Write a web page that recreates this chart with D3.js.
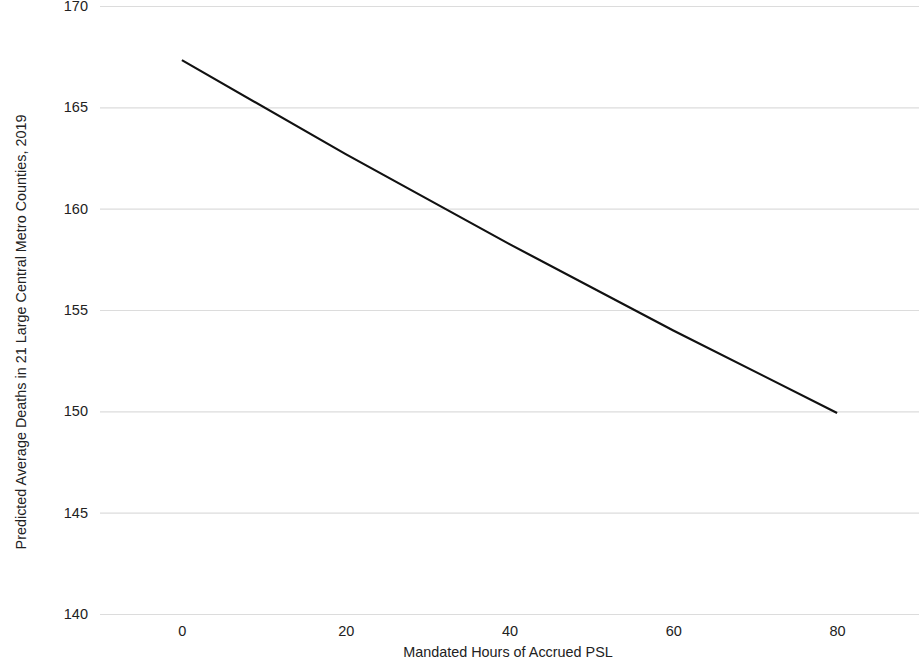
<!DOCTYPE html>
<html>
<head>
<meta charset="utf-8">
<title>Predicted Average Deaths by Mandated PSL Hours</title>
<script src="https://d3js.org/d3.v7.min.js"></script>
<style type="text/css">
	body { margin: 0; background: #fff; }
	text { font-family: "Liberation Sans", Arial, sans-serif; fill: #222; }
	.grid line { stroke: #dcdcdc; stroke-width: 1.2; }
	.grid .domain { display: none; }
	.axis .domain, .axis line { display: none; }
	.trend { fill: none; stroke: #111; stroke-width: 2.2; }
</style>
</head>
<body>
<div id="chart"></div>
<script type="text/javascript">
// values
var hours = [0, 20, 40, 60, 80];
var deaths = [167.33, 162.69, 158.25, 153.99, 149.92];
var xTicks = [0, 20, 40, 60, 80];
var yTicks = [140, 145, 150, 155, 160, 165, 170];

var svg_width = 924;
var svg_height = 668;
var margin = {top: 6, right: 5, bottom: 54, left: 100};

var svg = d3.select("#chart")
	.append("svg")
	.attr("width", svg_width)
	.attr("height", svg_height);

var x = d3.scaleLinear()
	.domain([-10, 90])
	.range([margin.left, svg_width - margin.right]);

var y = d3.scaleLinear()
	.domain([140, 170])
	.range([svg_height - margin.bottom, margin.top]);

// horizontal gridlines
svg.append("g")
	.attr("class", "grid")
	.attr("transform", "translate(" + margin.left + ",0)")
	.call(d3.axisRight(y).tickValues(yTicks).tickSize(x.range()[1] - x.range()[0]).tickFormat(""));

// y tick labels
svg.append("g")
	.attr("class", "axis")
	.attr("transform", "translate(" + (margin.left - 12) + ",0)")
	.call(d3.axisLeft(y).tickValues(yTicks).tickSize(0).tickPadding(0))
	.selectAll("text")
	.style("font-size", "14.5px");

// x tick labels
svg.append("g")
	.attr("class", "axis")
	.attr("transform", "translate(0," + (svg_height - margin.bottom) + ")")
	.call(d3.axisBottom(x).tickValues(xTicks).tickSize(0).tickPadding(12))
	.selectAll("text")
	.style("font-size", "14.5px");

var line = d3.line()
	.x(function(d, i) { return x(hours[i]); })
	.y(function(d) { return y(d); });

svg.append("path")
	.datum(deaths)
	.attr("class", "trend")
	.attr("d", line);

svg.append("text")
	.attr("x", 508)
	.attr("y", 657)
	.attr("text-anchor", "middle")
	.style("font-size", "14.4px")
	.text("Mandated Hours of Accrued PSL");

svg.append("text")
	.attr("transform", "translate(26,332) rotate(-90)")
	.attr("text-anchor", "middle")
	.style("font-size", "14.4px")
	.text("Predicted Average Deaths in 21 Large Central Metro Counties, 2019");
</script>
</body>
</html>
